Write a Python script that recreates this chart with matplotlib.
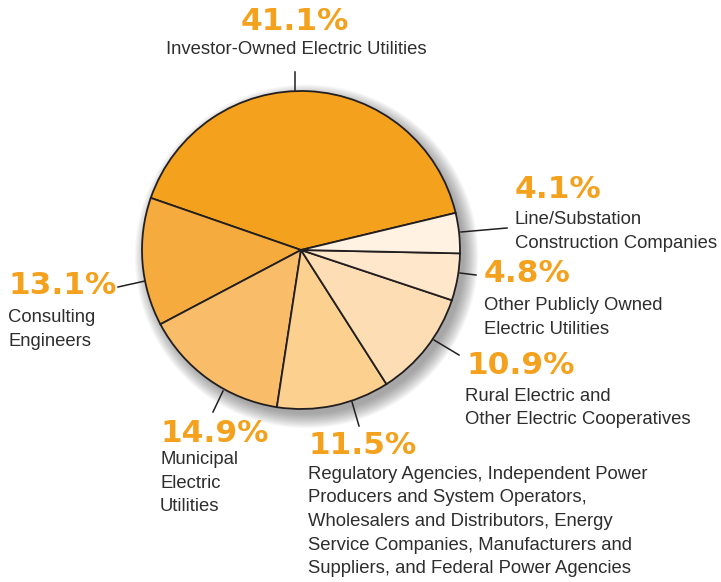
import numpy as np
import matplotlib.pyplot as plt
from matplotlib.patches import Circle

# slices, counter-clockwise from the Investor-Owned slice
shares = [41.1, 13.1, 14.9, 11.5, 10.9, 4.8, 4.1]
pct_labels = ['41.1%', '13.1%', '14.9%', '11.5%', '10.9%', '4.8%', '4.1%']
names = ['Investor-Owned Electric Utilities',
         'Consulting\nEngineers',
         'Municipal\nElectric\nUtilities',
         'Regulatory Agencies, Independent Power\nProducers and System Operators,\n'
         'Wholesalers and Distributors, Energy\nService Companies, Manufacturers and\n'
         'Suppliers, and Federal Power Agencies',
         'Rural Electric and\nOther Electric Cooperatives',
         'Other Publicly Owned\nElectric Utilities',
         'Line/Substation\nConstruction Companies']
colors = ['#F4A21D', '#F6AB3F', '#F9BD6A', '#FCD190', '#FDDDB3', '#FEE7CB', '#FFF2E2']

W, H = 721, 582
fig = plt.figure(figsize=(W / 100, H / 100), dpi=100)

cx, cy, r = 301, 250, 159
ax = fig.add_axes([(cx - r) / W, 1 - (cy + r) / H, 2 * r / W, 2 * r / H])
ax.set_aspect('equal')
ax.axis('off')

# soft drop shadow
for k in range(16):
    rad = 1.08 - k * 0.006
    ax.add_patch(Circle((0.035, -0.04), rad, color='#444444', alpha=0.035, lw=0,
                        zorder=0, clip_on=False))

ax.pie(shares, colors=colors, startangle=13.5, counterclock=True, radius=1,
       wedgeprops=dict(edgecolor='#231f20', linewidth=1.3), frame=False)
ax.set_xlim(-1, 1)
ax.set_ylim(-1, 1)

orange = '#F4A11E'
grey = '#2e2e2e'
pfont = dict(family=['DejaVu Sans'], fontsize=22.5, fontweight='bold', color=orange)
lfont = dict(family=['Liberation Sans', 'DejaVu Sans'],
             fontsize=13.3, color=grey, linespacing=1.5)


def px(x, y):
    return x / W, 1 - y / H


# (pct x, pct y center, ha, label x, label top y)
spots = [(295, 21, 'center', 296, 41),
         (8, 286, 'left', 8, 309),
         (161, 433, 'left', 160, 451),
         (309, 445, 'left', 308, 466),
         (466, 365, 'left', 465, 388),
         (484, 273, 'left', 484, 297),
         (515, 190, 'left', 515, 211)]
for pct, name, (x, y, ha, lx, ly) in zip(pct_labels, names, spots):
    fig.text(*px(x, y), pct, ha=ha, va='center', **pfont)
    fig.text(*px(lx, ly), name, ha=ha, va='top', **lfont)

# leader lines (pixel coords)
leaders = [((295, 72), (295, 91)),
           ((118, 287), (145, 281)),
           ((213, 412), (223, 391)),
           ((359, 426), (352, 402)),
           ((459, 355), (434, 340)),
           ((476, 275), (460, 273)),
           ((507, 228), (461, 232))]
for (x0, y0), (x1, y1) in leaders:
    fig.add_artist(plt.Line2D([x0 / W, x1 / W], [1 - y0 / H, 1 - y1 / H],
                              transform=fig.transFigure, color='#231f20', lw=1.1))

fig.savefig('out.png', dpi=100)
